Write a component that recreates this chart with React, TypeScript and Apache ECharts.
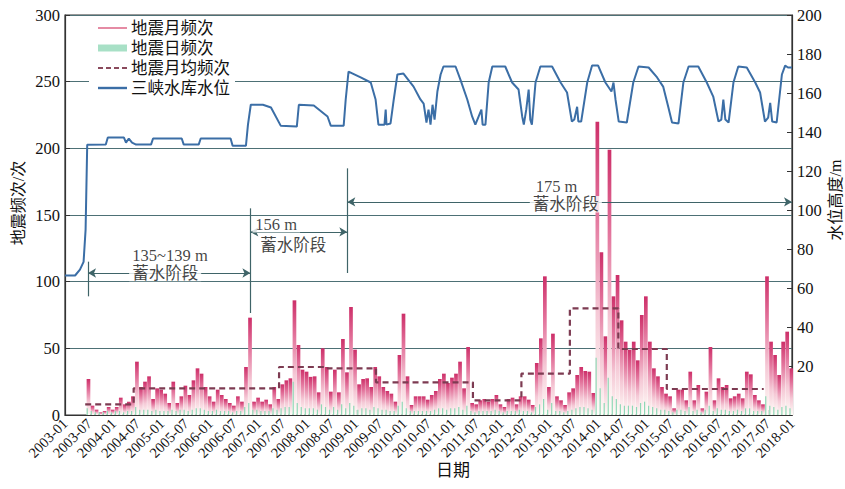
import { useEffect, useRef } from "react";
import * as echarts from "echarts";

// month index 0 = 2003-01 ... 179 = 2017-12, axis runs 0..180 (2018-01)
const startYear = 2003;
const monthCount = 180;

// 地震月频次 (per month)
const monthlyFreq = [
  0, 0, 0, 0, 0, 27, 7, 4, 2, 3, 6, 4, // 2003
  6, 13, 8, 10, 14, 40, 21, 25, 29, 12, 20, 19, // 2004
  16, 9, 25, 9, 14, 22, 15, 26, 35, 31, 21, 14, // 2005
  10, 19, 15, 12, 9, 7, 14, 10, 36, 73, 10, 13, // 2006
  10, 11.5, 8, 21, 12, 23, 26, 27.5, 86, 52.5, 34, 32.5, // 2007
  28.6, 29, 17, 50, 36, 17.5, 34, 17, 57, 32, 81, 49, // 2008
  23, 27, 27.5, 21, 36, 29, 21, 18, 16, 10, 45, 76, // 2009
  29, 7.5, 14, 14, 14, 11.5, 15, 18, 27, 31, 24, 28, // 2010
  31, 40, 20, 51, 9, 8, 11, 12, 10, 12, 15, 8, // 2011
  6, 12, 13, 8, 14, 14, 11.5, 7.5, 39, 57.5, 104, 21, // 2012
  61, 14, 11, 7.5, 17, 20, 30, 36, 33, 32.5, 16.5, 220, // 2013
  122, 59, 199, 89, 105, 71, 55, 49, 55, 41, 75, 89, // 2014
  55, 35, 29, 21, 16, 14, 5, 19, 19, 11, 32.5, 11, // 2015
  22.5, 5, 17.5, 51, 11, 27.5, 21, 22.5, 12.5, 14, 16, 12.5, // 2016
  32.5, 30.5, 15, 11, 8, 104, 55, 45, 30, 55, 62.5, 35, // 2017
];

// 地震日频次 (peak daily count within each month)
const dailyFreq = [
  0, 0, 0, 0, 0, 5, 3, 2, 2, 2, 3, 2,
  3, 3, 2, 3, 3, 6, 4, 4, 4, 3, 4, 3,
  3, 3, 4, 3, 4, 4, 3, 4, 5, 5, 4, 3,
  3, 4, 3, 3, 3, 2, 3, 3, 6, 9, 4, 4,
  3, 3, 3, 5, 4, 5, 6, 6, 25, 9, 6, 5,
  5, 5, 4, 8, 6, 4, 6, 4, 8, 5, 9, 7,
  4, 5, 5, 4, 6, 5, 4, 4, 3, 3, 7, 10,
  5, 3, 3, 3, 3, 3, 3, 4, 5, 5, 4, 5,
  5, 6, 4, 7, 3, 2, 3, 3, 3, 3, 4, 3,
  2, 3, 3, 3, 4, 3, 3, 2, 6, 8, 12, 4,
  9, 3, 3, 2, 3, 4, 5, 6, 6, 5, 4, 43,
  20, 9, 28, 14, 12, 8, 7, 7, 7, 6, 9, 10,
  7, 6, 5, 4, 4, 3, 2, 4, 4, 3, 6, 3,
  4, 2, 4, 7, 3, 5, 4, 4, 3, 3, 4, 3,
  5, 5, 3, 3, 3, 14, 7, 6, 4, 6, 7, 5,
];

// 地震月均频次: step boundaries (month index) and values
const avgBreaks = [5, 17, 53, 65, 77, 101, 113, 125, 137, 149, 173];
const avgValues = [8, 20, 36, 35, 24.5, 11, 31, 80, 49.5, 19.5];

// 三峡水库水位 (month index, level m)
const levelMonth = [
  0, 2.5, 3.7, 4.6, 5.1, 5.5, 10.1, 10.6, 14.6, 15.1, 15.8, 16.6, 17.6, 21.3, 21.8, 28.9,
  29.4, 33.1, 33.6, 41.0, 41.5, 44.8, 45.3, 46.0, 49.0, 51.0, 53.4, 57.4, 57.9, 61.6, 65.0,
  65.8, 69.0, 69.5, 70.2, 73.2, 75.7, 76.9, 77.6, 79.1, 79.4, 79.6, 80.6, 81.4, 82.3, 83.8,
  86.3, 88.0, 88.8, 89.5, 90.0, 90.5, 91.0, 91.5, 92.2, 93.0, 93.7, 96.7, 97.9, 99.6, 100.8,
  101.6, 103.1, 103.4, 104.1, 104.9, 105.8, 109.0, 110.7, 112.3, 113.2, 113.6, 114.2, 114.8,
  115.2, 115.6, 116.5, 117.7, 120.6, 122.7, 124.3, 125.5, 126.1, 126.8, 127.1, 127.8, 129.3,
  130.5, 132.0, 133.8, 135.3, 135.8, 136.3, 137.1, 139.1, 140.7, 142.0, 144.5, 146.6, 148.1,
  149.4, 150.3, 151.9, 153.1, 154.4, 156.8, 158.9, 160.5, 161.8, 162.5, 163.0, 163.5, 164.3,
  165.5, 166.7, 168.8, 170.9, 172.1, 173.3, 174.1, 174.6, 175.1, 176.2, 177.5, 178.3, 179.0,
  180.0,
];
const levelValue = [
  66.5, 66.5, 69.5, 73.5, 90, 133.5, 133.6, 137.2, 137.2, 134.6, 136.7, 134.6, 133.6, 133.6, 136.7, 136.7,
  133.6, 133.6, 136.7, 136.7, 133, 133, 143.8, 154, 154, 152.6, 143.3, 142.8, 154, 153.6, 148,
  143.3, 143.3, 156.7, 171, 168, 165.4, 156.7, 143.8, 143.8, 151.5, 143.8, 144.4, 156.7, 169.5, 170,
  163.3, 156.7, 154.6, 144.9, 151.5, 143.8, 154, 146.4, 160.8, 169.5, 173.6, 173.6, 166.9, 156.7, 148,
  143.8, 151.5, 143.8, 143.8, 165.4, 173.6, 173.6, 165.4, 161.8, 148, 143.8, 151.5, 161.8,
  146.4, 143.8, 165.4, 173.6, 173.6, 165.4, 160.3, 145.4, 146.4, 153, 145.4, 145.4, 165.4,
  174.1, 174.1, 165.4, 160.8, 165.4, 156.7, 145.4, 144.9, 165.4, 173.6, 173.1, 168, 163.3,
  152.6, 144.9, 144.4, 165.4, 173.6, 173.6, 165.4, 158.2, 145.4, 146.4, 156.7, 146.4, 144.9,
  165.4, 173.6, 173.1, 165.4, 160.3, 145.4, 147.4, 155, 145.4, 144.9, 169.5, 174.1, 173.1,
  173.1,
];

const leftTicks = [0, 50, 100, 150, 200, 250, 300];
const rightTicks = [20, 40, 60, 80, 100, 120, 140, 160, 180, 200];

const legendNames = ["地震月频次", "地震日频次", "地震月均频次", "三峡水库水位"];

// stage annotations: [month, left-axis value]
const stageMarks = [
  { name: "135~139 m", at: [26, 119.5] },
  { name: "蓄水阶段", at: [24.8, 106.5] },
  { name: "156 m", at: [52.3, 143] },
  { name: "蓄水阶段", at: [56.5, 127.5] },
  { name: "175 m", at: [121.7, 171.7] },
  { name: "蓄水阶段", at: [124, 158] },
];
const stageBounds = [
  { x: 5.7, from: 89, to: 115 },
  { x: 45.9, from: 76.5, to: 155 },
  { x: 69.9, from: 106.5, to: 185 },
];
const stageArrows = [
  { from: 5.7, to: 45.9, y: 106.5 },
  { from: 45.9, to: 69.9, y: 137.3 },
  { from: 69.9, to: 180, y: 159.8 },
];

const SERIF = "'Liberation Serif', 'Noto Sans CJK SC', serif";
const GRID = "#4d7075";
const AXIS = "#333";

function fmtMonth(v: number) {
  const y = startYear + Math.floor(v / 12);
  const m = (v % 12) + 1;
  return `${y}-${m < 10 ? "0" + m : m}`;
}

export default function App() {
  const ref = useRef<HTMLDivElement>(null);
  useEffect(() => {
    if (!ref.current) return;
    const chart = echarts.init(ref.current, undefined, { renderer: "svg" });

    const avgData: number[][] = [];
    avgValues.forEach((v, k) => {
      avgData.push([avgBreaks[k], v]);
      avgData.push([avgBreaks[k + 1], v]);
    });

    const markData: any[] = [];
    stageBounds.forEach((b) => {
      markData.push([
        { coord: [b.x, b.from], symbol: "none" },
        { coord: [b.x, b.to], symbol: "none" },
      ]);
    });
    stageArrows.forEach((a) => {
      markData.push([
        { coord: [a.from, a.y], symbol: "arrow" },
        { coord: [a.to, a.y], symbol: "arrow" },
      ]);
    });

    const legendRows = [
      { y: 28, kind: "pink" },
      { y: 48, kind: "green" },
      { y: 68, kind: "dash" },
      { y: 88, kind: "blue" },
    ];
    const legendGraphics: any[] = [
      {
        type: "rect",
        shape: { x: 89, y: 16, width: 146, height: 82 },
        style: { fill: "#fff" },
        z: 50,
      },
    ];
    legendRows.forEach((r, k) => {
      let icon: any;
      if (r.kind === "pink")
        icon = { type: "line", shape: { x1: 98, y1: r.y, x2: 127, y2: r.y }, style: { stroke: "#e58ba4", lineWidth: 2 } };
      else if (r.kind === "green")
        icon = { type: "rect", shape: { x: 98, y: r.y - 3.5, width: 29, height: 7 }, style: { fill: "#a8e0c6" } };
      else if (r.kind === "dash")
        icon = { type: "line", shape: { x1: 98, y1: r.y, x2: 127, y2: r.y }, style: { stroke: "#8a4a5c", lineWidth: 2, lineDash: [5, 3] } };
      else
        icon = { type: "line", shape: { x1: 98, y1: r.y, x2: 127, y2: r.y }, style: { stroke: "#3b6ea6", lineWidth: 2.4 } };
      icon.z = 51;
      legendGraphics.push(icon);
      legendGraphics.push({
        type: "text",
        x: 131,
        y: r.y,
        z: 51,
        style: {
          text: legendNames[k],
          fontSize: 16.5,
          fontFamily: SERIF,
          fill: "#111",
          verticalAlign: "middle",
          align: "left",
        },
      });
    });

    chart.setOption({
      animation: false,
      backgroundColor: "#fff",
      grid: {
        left: 65,
        right: 53,
        top: 15,
        bottom: 74,
        show: true,
        borderColor: AXIS,
        borderWidth: 1.2,
        backgroundColor: "transparent",
      },
      xAxis: {
        type: "value",
        min: 0,
        max: monthCount,
        interval: 6,
        axisLine: { show: true, lineStyle: { color: AXIS, width: 1.2 } },
        axisTick: { show: true, inside: true, length: 5, lineStyle: { color: AXIS } },
        axisLabel: {
          rotate: 45,
          fontSize: 14.5,
          fontFamily: SERIF,
          color: "#111",
          margin: 6,
          formatter: (v: number) => fmtMonth(v),
        },
        splitLine: { show: false },
      },
      yAxis: [
        {
          type: "value",
          min: leftTicks[0],
          max: leftTicks[leftTicks.length - 1],
          interval: 50,
          axisLine: { show: true, lineStyle: { color: AXIS, width: 1.2 } },
          axisTick: { show: true, inside: true, length: 5, lineStyle: { color: AXIS } },
          axisLabel: { fontSize: 16.5, fontFamily: SERIF, color: "#111", margin: 5 },
          splitLine: { show: true, lineStyle: { color: GRID, width: 1.1 } },
        },
        {
          type: "value",
          min: -5,
          max: 200,
          position: "right",
          axisLine: { show: true, lineStyle: { color: AXIS, width: 1.2 } },
          axisTick: { show: true, inside: true, length: 5, lineStyle: { color: AXIS }, customValues: rightTicks },
          axisLabel: { fontSize: 16.5, fontFamily: SERIF, color: "#111", margin: 5, customValues: rightTicks },
          splitLine: { show: false },
        },
      ],
      graphic: [
        ...legendGraphics,
        {
          type: "text",
          x: 18,
          y: 203,
          rotation: Math.PI / 2,
          style: { text: "地震频次/次", fontSize: 16, fontFamily: SERIF, fill: "#111", align: "center", verticalAlign: "middle" },
        },
        {
          type: "text",
          x: 835,
          y: 200,
          rotation: Math.PI / 2,
          style: { text: "水位高度/m", fontSize: 16, fontFamily: SERIF, fill: "#111", align: "center", verticalAlign: "middle" },
        },
        {
          type: "text",
          x: 453,
          y: 470,
          style: { text: "日期", fontSize: 17, fontFamily: SERIF, fill: "#111", align: "center", verticalAlign: "middle" },
        },
      ],
      series: [
        {
          name: legendNames[0],
          type: "bar",
          xAxisIndex: 0,
          yAxisIndex: 0,
          barWidth: 3.7,
          barGap: "-100%",
          z: 2,
          itemStyle: {
            color: new echarts.graphic.LinearGradient(0, 0, 0, 1, [
              { offset: 0, color: "#cd2f69" },
              { offset: 0.3, color: "#e2719a" },
              { offset: 0.65, color: "#f5c9d6" },
              { offset: 1, color: "#fffdf8" },
            ]),
          },
          data: monthlyFreq.map((v, i) => [i + 0.5, v]),
        },
        {
          name: legendNames[1],
          type: "bar",
          xAxisIndex: 0,
          yAxisIndex: 0,
          barWidth: 1.2,
          barGap: "-100%",
          z: 3,
          itemStyle: { color: "#8fd8b6" },
          data: dailyFreq.map((v, i) => [i + 0.5, v]),
        },
        {
          name: legendNames[2],
          type: "line",
          xAxisIndex: 0,
          yAxisIndex: 0,
          symbol: "none",
          z: 4,
          lineStyle: { color: "#7d3b52", width: 2.2, type: [6, 4] },
          data: avgData,
          markLine: {
            silent: true,
            symbolSize: [7, 8],
            label: { show: false },
            lineStyle: { color: "#3f6468", width: 1.2, type: "solid" },
            emphasis: { disabled: true },
            data: markData,
          },
        },
        {
          name: legendNames[3],
          type: "line",
          xAxisIndex: 0,
          yAxisIndex: 1,
          symbol: "none",
          z: 5,
          lineStyle: { color: "#3b6ea6", width: 2 },
          data: levelMonth.map((m, k) => [m, levelValue[k]]),
        },
        {
          name: "stage",
          type: "scatter",
          xAxisIndex: 0,
          yAxisIndex: 0,
          symbolSize: 1,
          z: 20,
          itemStyle: { color: "rgba(0,0,0,0)" },
          label: {
            show: true,
            position: "inside",
            formatter: (p: any) => p.name,
            fontSize: 16.5,
            fontFamily: SERIF,
            color: "#111",
            backgroundColor: "#fff",
            padding: [0, 3],
          },
          data: stageMarks.map((s) => ({ name: s.name, value: s.at })),
        },
      ],
    });
    return () => chart.dispose();
  }, []);
  return (
    <div
      ref={ref}
      style={{ position: "fixed", left: 0, top: 0, width: 845, height: 489, background: "#fff" }}
    />
  );
}
